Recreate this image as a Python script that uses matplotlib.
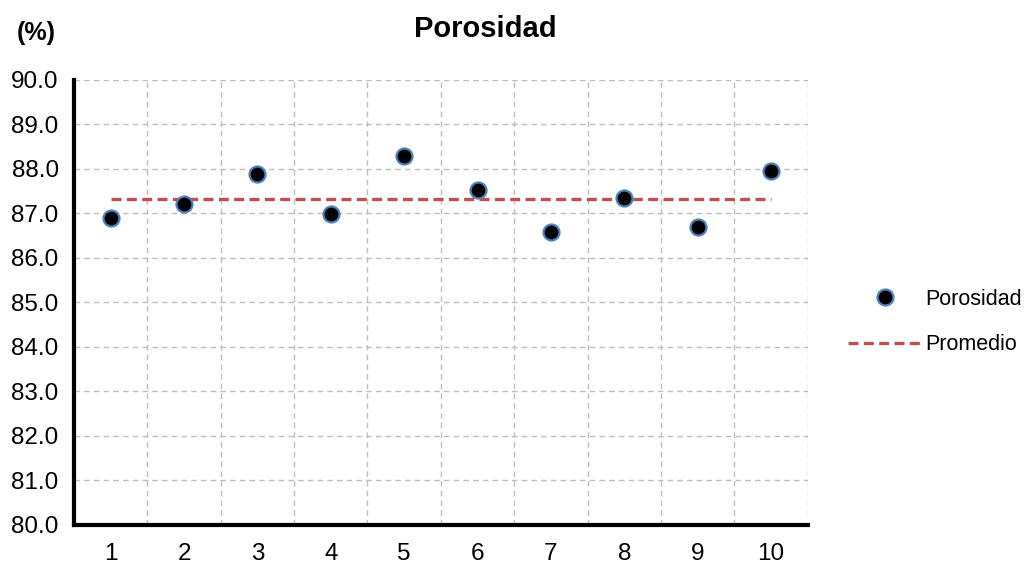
import numpy as np
import matplotlib
matplotlib.use("Agg")
from matplotlib import pyplot as plt

# datos
muestras = [1, 2, 3, 4, 5, 6, 7, 8, 9, 10]
porosidad = [86.89, 87.21, 87.88, 86.98, 88.29, 87.53, 86.58, 87.34, 86.69, 87.95]
promedio = np.mean(porosidad)

plt.rcParams['font.family'] = ['Liberation Sans', 'DejaVu Sans']

fig = plt.figure(figsize=(10.29, 5.71), dpi=100)
ax = fig.add_axes([0.0719, 0.0806, 0.7131, 0.7794])

ax.plot(muestras, porosidad, linestyle='none', marker='o', markersize=11.5,
        markerfacecolor='black', markeredgecolor='#4F81BD', markeredgewidth=1.6,
        label='Porosidad', zorder=3)
ax.plot(muestras, [promedio] * len(muestras), linestyle=(0, (3, 1.6)), color='#C0504D',
        linewidth=2.4, label='Promedio', zorder=2)

ax.set_xlim(0.5, 10.5)
ax.set_ylim(80, 90)
ax.set_xticks(muestras)
ax.set_xticks(np.arange(1.5, 11, 1), minor=True)
ax.set_yticks(np.arange(80, 90.1, 1))
ax.yaxis.set_major_formatter(matplotlib.ticker.FormatStrFormatter('%.1f'))
ax.tick_params(axis='both', which='both', length=0, labelsize=17.5)
ax.tick_params(axis='x', pad=13)
ax.tick_params(axis='y', pad=11)

ax.grid(axis='y', which='major', color='#BFBFBF', linestyle=(0, (4, 3)), linewidth=1)
ax.grid(axis='x', which='minor', color='#BFBFBF', linestyle=(0, (4, 3)), linewidth=1)
ax.grid(axis='x', which='major', visible=False)

for s in ['top', 'right']:
    ax.spines[s].set_visible(False)
ax.spines['left'].set_linewidth(3)
ax.spines['bottom'].set_linewidth(3)

fig.text(0.472, 0.95, 'Porosidad', ha='center', va='center', fontsize=21, fontweight='bold')
fig.text(0.035, 0.942, '(%)', ha='center', va='center', fontsize=18, fontweight='bold')

ax.legend(loc='center left', bbox_to_anchor=(0.8055, 0.436), bbox_transform=fig.transFigure,
          frameon=False, fontsize=15.5, handlelength=3.4, handletextpad=0.2, labelspacing=1.15)

plt.savefig('out.png', dpi=100)
plt.close()
